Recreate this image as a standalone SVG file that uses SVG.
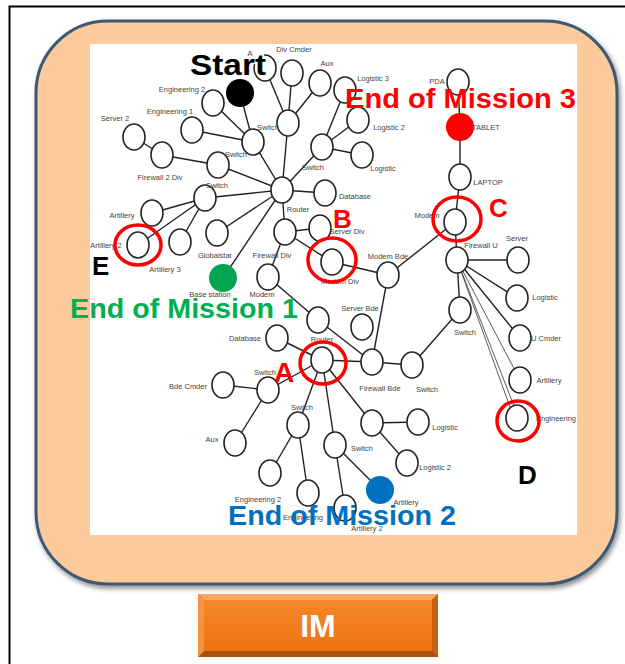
<svg xmlns="http://www.w3.org/2000/svg" width="625" height="664" viewBox="0 0 625 664">
<defs>
<style>
.n{fill:#fff;stroke:#222;stroke-width:1.6}
.e{stroke:#222;stroke-width:1.4;fill:none}
.t{stroke:#333;stroke-width:0.8;fill:none}
.l{font-family:"Liberation Sans",Arial,sans-serif;font-size:7.5px;fill:#444;text-anchor:middle}
.rc{fill:none;stroke:#FF0000;stroke-width:3.5}
.big{font-family:"Liberation Sans",Arial,sans-serif;font-weight:bold}
</style>
<filter id="sh" x="-5%" y="-5%" width="112%" height="112%">
<feDropShadow dx="2" dy="3" stdDeviation="2.5" flood-color="#000" flood-opacity="0.45"/>
</filter>
<linearGradient id="btn" x1="0" y1="0" x2="0" y2="1">
<stop offset="0" stop-color="#F4872A"/>
<stop offset="1" stop-color="#EE7312"/>
</linearGradient>
</defs>
<rect x="0" y="0" width="625" height="664" fill="#fff"/>
<rect x="9.5" y="6.5" width="640" height="680" fill="none" stroke="#000" stroke-width="2"/>
<rect x="36" y="21" width="581" height="563" rx="72" ry="72" fill="#FDCB9B" stroke="#3C5875" stroke-width="3" filter="url(#sh)"/>
<rect x="90" y="44" width="487" height="491" fill="#fff"/>

<g id="connectors">
<line class="e" x1="240" y1="93" x2="253" y2="142"/>
<line class="e" x1="213" y1="103" x2="253" y2="142"/>
<line class="e" x1="192" y1="130" x2="253" y2="142"/>
<line class="e" x1="253" y1="142" x2="282" y2="190"/>
<line class="e" x1="134" y1="137" x2="162" y2="155"/>
<line class="e" x1="162" y1="155" x2="218" y2="165"/>
<line class="e" x1="218" y1="165" x2="282" y2="190"/>
<line class="e" x1="265" y1="68" x2="288" y2="123"/>
<line class="e" x1="292" y1="73" x2="288" y2="123"/>
<line class="e" x1="320" y1="83" x2="288" y2="123"/>
<line class="e" x1="288" y1="123" x2="282" y2="190"/>
<line class="e" x1="345" y1="90" x2="322" y2="147"/>
<line class="e" x1="358" y1="120" x2="322" y2="147"/>
<line class="e" x1="362" y1="155" x2="322" y2="147"/>
<line class="e" x1="322" y1="147" x2="282" y2="190"/>
<line class="e" x1="282" y1="190" x2="325" y2="193"/>
<line class="e" x1="282" y1="190" x2="205" y2="198"/>
<line class="e" x1="205" y1="198" x2="152" y2="213"/>
<line class="e" x1="205" y1="198" x2="138" y2="245"/>
<line class="e" x1="205" y1="198" x2="180" y2="242"/>
<line class="e" x1="282" y1="190" x2="217" y2="233"/>
<line class="e" x1="282" y1="190" x2="223" y2="278"/>
<line class="e" x1="282" y1="190" x2="285" y2="232"/>
<line class="e" x1="285" y1="232" x2="320" y2="228"/>
<line class="e" x1="285" y1="232" x2="332" y2="262"/>
<line class="e" x1="285" y1="232" x2="268" y2="277"/>
<line class="e" x1="332" y1="262" x2="388" y2="275"/>
<line class="e" x1="388" y1="275" x2="455" y2="222"/>
<line class="e" x1="388" y1="275" x2="372" y2="362"/>
<line class="e" x1="268" y1="277" x2="318" y2="320"/>
<line class="e" x1="318" y1="320" x2="372" y2="362"/>
<line class="e" x1="322" y1="360" x2="277" y2="338"/>
<line class="e" x1="322" y1="360" x2="268" y2="390"/>
<line class="e" x1="268" y1="390" x2="223" y2="385"/>
<line class="e" x1="268" y1="390" x2="235" y2="443"/>
<line class="e" x1="322" y1="360" x2="298" y2="425"/>
<line class="e" x1="298" y1="425" x2="270" y2="473"/>
<line class="e" x1="298" y1="425" x2="308" y2="493"/>
<line class="e" x1="322" y1="360" x2="335" y2="445"/>
<line class="e" x1="335" y1="445" x2="345" y2="508"/>
<line class="e" x1="335" y1="445" x2="380" y2="490"/>
<line class="e" x1="322" y1="360" x2="372" y2="423"/>
<line class="e" x1="372" y1="423" x2="418" y2="422"/>
<line class="e" x1="372" y1="423" x2="407" y2="463"/>
<line class="e" x1="322" y1="360" x2="372" y2="362"/>
<line class="e" x1="372" y1="362" x2="412" y2="365"/>
<line class="e" x1="412" y1="365" x2="460" y2="310"/>
<line class="e" x1="460" y1="310" x2="457" y2="260"/>
<line class="e" x1="457" y1="260" x2="455" y2="222"/>
<line class="e" x1="455" y1="222" x2="460" y2="177"/>
<line class="e" x1="460" y1="177" x2="460" y2="127"/>
<line class="e" x1="460" y1="127" x2="458" y2="82"/>
<line class="e" x1="457" y1="260" x2="518" y2="260"/>
<line class="e" x1="457" y1="260" x2="517" y2="298"/>
<line class="e" x1="457" y1="260" x2="520" y2="338"/>
<line class="t" x1="457" y1="260" x2="520" y2="380"/>
<line class="t" x1="457" y1="260" x2="514" y2="406"/>
<line class="t" x1="457" y1="260" x2="510" y2="407"/>
</g>

<g id="node-start"><circle cx="240" cy="93" r="14" fill="#000"/></g>
<g id="node-sw1"><ellipse class="n" cx="253" cy="142" rx="11" ry="13"/></g>
<g id="node-eng2"><ellipse class="n" cx="213" cy="103" rx="11" ry="13"/><text class="l" x="182" y="92">Engineering 2</text></g>
<g id="node-eng1"><ellipse class="n" cx="192" cy="130" rx="11" ry="13"/><text class="l" x="170" y="114">Engineering 1</text></g>
<g id="node-server2"><ellipse class="n" cx="134" cy="137" rx="11" ry="13"/><text class="l" x="115" y="121">Server 2</text></g>
<g id="node-fw2div"><ellipse class="n" cx="162" cy="155" rx="11" ry="13"/><text class="l" x="160" y="180">Firewall 2 Div</text></g>
<g id="node-sw2"><ellipse class="n" cx="218" cy="165" rx="11" ry="13"/><text class="l" x="236" y="157">Switch</text></g>
<g id="node-top1"><ellipse class="n" cx="265" cy="68" rx="11" ry="13"/><text class="l" x="250" y="56">A</text></g>
<g id="node-divcmder"><ellipse class="n" cx="292" cy="73" rx="11" ry="13"/><text class="l" x="294" y="52">Div Cmder</text></g>
<g id="node-aux"><ellipse class="n" cx="320" cy="83" rx="11" ry="13"/><text class="l" x="327" y="66">Aux</text></g>
<g id="node-sw3"><ellipse class="n" cx="288" cy="123" rx="11" ry="13"/><text class="l" x="268" y="130">Switch</text></g>
<g id="node-log3"><ellipse class="n" cx="345" cy="90" rx="11" ry="13"/><text class="l" x="373" y="81">Logistic 3</text></g>
<g id="node-log2"><ellipse class="n" cx="358" cy="120" rx="11" ry="13"/><text class="l" x="389" y="130">Logistic 2</text></g>
<g id="node-log"><ellipse class="n" cx="362" cy="155" rx="11" ry="13"/><text class="l" x="383" y="171">Logistic</text></g>
<g id="node-sw4"><ellipse class="n" cx="322" cy="147" rx="11" ry="13"/><text class="l" x="313" y="170">Switch</text></g>
<g id="node-router"><ellipse class="n" cx="282" cy="190" rx="11" ry="13"/><text class="l" x="298" y="212">Router</text></g>
<g id="node-db"><ellipse class="n" cx="325" cy="193" rx="11" ry="13"/><text class="l" x="355" y="199">Database</text></g>
<g id="node-sw5"><ellipse class="n" cx="205" cy="198" rx="11" ry="13"/><text class="l" x="217" y="188">Switch</text></g>
<g id="node-art"><ellipse class="n" cx="152" cy="213" rx="11" ry="13"/><text class="l" x="122" y="218">Artillery</text></g>
<g id="node-art2"><text class="l" x="106" y="248">Artillery 2</text><ellipse class="n" cx="138" cy="245" rx="11" ry="13"/></g>
<g id="node-art3"><ellipse class="n" cx="180" cy="242" rx="11" ry="13"/><text class="l" x="165" y="272">Artillery 3</text></g>
<g id="node-globalstar"><ellipse class="n" cx="217" cy="233" rx="11" ry="13"/><text class="l" x="215" y="258">Globalstar</text></g>
<g id="node-base"><text class="l" x="210" y="297">Base station</text><circle cx="223" cy="278" r="14" fill="#00A550"/></g>
<g id="node-fwdiv"><ellipse class="n" cx="285" cy="232" rx="11" ry="13"/><text class="l" x="272" y="258">Firewall Div</text></g>
<g id="node-serverdiv"><ellipse class="n" cx="320" cy="228" rx="11" ry="13"/><text class="l" x="347" y="234">Server Div</text></g>
<g id="node-modemdiv"><text class="l" x="340" y="284">Modem Div</text><ellipse class="n" cx="332" cy="262" rx="11" ry="13"/></g>
<g id="node-modem"><ellipse class="n" cx="268" cy="277" rx="11" ry="13"/><text class="l" x="262" y="297">Modem</text></g>
<g id="node-x"><ellipse class="n" cx="318" cy="320" rx="11" ry="13"/></g>
<g id="node-modembde"><ellipse class="n" cx="388" cy="275" rx="11" ry="13"/><text class="l" x="388" y="259">Modem Bde</text></g>
<g id="node-serverbde"><ellipse class="n" cx="362" cy="327" rx="11" ry="13"/><text class="l" x="360" y="311">Server Bde</text></g>
<g id="node-routerA"><text class="l" x="322" y="342">Router</text><ellipse class="n" cx="322" cy="360" rx="11" ry="13"/></g>
<g id="node-fwbde"><ellipse class="n" cx="372" cy="362" rx="11" ry="13"/><text class="l" x="380" y="391">Firewall Bde</text></g>
<g id="node-sw10"><ellipse class="n" cx="412" cy="365" rx="11" ry="13"/><text class="l" x="427" y="392">Switch</text></g>
<g id="node-sw11"><ellipse class="n" cx="460" cy="310" rx="11" ry="13"/><text class="l" x="465" y="335">Switch</text></g>
<g id="node-dbA"><ellipse class="n" cx="277" cy="338" rx="11" ry="13"/><text class="l" x="245" y="341">Database</text></g>
<g id="node-sw6"><ellipse class="n" cx="268" cy="390" rx="11" ry="13"/><text class="l" x="265" y="375">Switch</text></g>
<g id="node-bdecmder"><ellipse class="n" cx="223" cy="385" rx="11" ry="13"/><text class="l" x="188" y="389">Bde Cmder</text></g>
<g id="node-auxA"><ellipse class="n" cx="235" cy="443" rx="11" ry="13"/><text class="l" x="212" y="442">Aux</text></g>
<g id="node-sw7"><ellipse class="n" cx="298" cy="425" rx="11" ry="13"/><text class="l" x="302" y="410">Switch</text></g>
<g id="node-eng2b"><ellipse class="n" cx="270" cy="473" rx="11" ry="13"/><text class="l" x="258" y="502">Engineering 2</text></g>
<g id="node-engb"><ellipse class="n" cx="308" cy="493" rx="11" ry="13"/><text class="l" x="303" y="520">Engineering</text></g>
<g id="node-sw8"><ellipse class="n" cx="335" cy="445" rx="11" ry="13"/><text class="l" x="362" y="451">Switch</text></g>
<g id="node-art2b"><ellipse class="n" cx="345" cy="508" rx="11" ry="13"/><text class="l" x="367" y="531">Artillery 2</text></g>
<g id="node-blue"><circle cx="380" cy="490" r="14" fill="#0070C0"/><text class="l" x="406" y="505">Artillery</text></g>
<g id="node-sw9"><ellipse class="n" cx="372" cy="423" rx="11" ry="13"/></g>
<g id="node-logA"><ellipse class="n" cx="418" cy="422" rx="11" ry="13"/><text class="l" x="445" y="430">Logistic</text></g>
<g id="node-log2A"><ellipse class="n" cx="407" cy="463" rx="11" ry="13"/><text class="l" x="435" y="470">Logistic 2</text></g>
<g id="node-modemC"><text class="l" x="427" y="218">Modem</text><ellipse class="n" cx="455" cy="222" rx="11" ry="13"/></g>
<g id="node-laptop"><ellipse class="n" cx="460" cy="177" rx="11" ry="13"/><text class="l" x="488" y="185">LAPTOP</text></g>
<g id="node-tablet"><circle cx="460" cy="127" r="14" fill="#FF0000"/><text class="l" x="486" y="130">TABLET</text></g>
<g id="node-pda"><ellipse class="n" cx="458" cy="82" rx="11" ry="13"/><text class="l" x="437" y="84">PDA</text></g>
<g id="node-fwU"><ellipse class="n" cx="457" cy="260" rx="11" ry="13"/><text class="l" x="481" y="248">Firewall U</text></g>
<g id="node-server"><ellipse class="n" cx="518" cy="260" rx="11" ry="13"/><text class="l" x="517" y="241">Server</text></g>
<g id="node-logU"><ellipse class="n" cx="517" cy="298" rx="11" ry="13"/><text class="l" x="545" y="300">Logistic</text></g>
<g id="node-ucmder"><ellipse class="n" cx="520" cy="338" rx="11" ry="13"/><text class="l" x="546" y="341">U Cmder</text></g>
<g id="node-artU"><ellipse class="n" cx="520" cy="380" rx="11" ry="13"/><text class="l" x="549" y="383">Artillery</text></g>
<g id="node-engU"><ellipse class="n" cx="517" cy="418" rx="11" ry="13"/><text class="l" x="556" y="421">Engineering</text></g>

<g id="markers">
<ellipse class="rc" cx="323" cy="363" rx="23" ry="21"/>
<ellipse class="rc" cx="332" cy="260" rx="24" ry="22"/>
<ellipse class="rc" cx="457" cy="219" rx="24" ry="22"/>
<ellipse class="rc" cx="518" cy="421" rx="21" ry="20"/>
<ellipse class="rc" cx="138" cy="245" rx="23" ry="20"/>
</g>

<g id="annotations">
<text class="big" x="190" y="75" font-size="30" fill="#000" stroke="#fff" stroke-width="3" paint-order="stroke" textLength="76" lengthAdjust="spacingAndGlyphs">Start</text>
<text class="big" x="345" y="108" font-size="27" fill="#FF0000" textLength="231" lengthAdjust="spacingAndGlyphs">End of Mission  3</text>
<text class="big" x="70" y="318" font-size="27" fill="#00B050" textLength="228" lengthAdjust="spacingAndGlyphs">End of Mission  1</text>
<text class="big" x="228" y="525" font-size="27" fill="#0070C0" textLength="228" lengthAdjust="spacingAndGlyphs">End of Mission  2</text>
<text class="big" x="274" y="382" font-size="28" fill="#FF0000">A</text>
<text class="big" x="333" y="228" font-size="26" fill="#FF0000">B</text>
<text class="big" x="489" y="217" font-size="26" fill="#FF0000">C</text>
<text class="big" x="518" y="484" font-size="26" fill="#000">D</text>
<text class="big" x="92" y="275" font-size="26" fill="#000">E</text>
</g>

<g id="im-button">
<rect x="198" y="594" width="240" height="63" fill="#A9520E"/>
<polygon points="198,594 438,594 432,600 204,600" fill="#F9A860"/>
<polygon points="198,594 204,600 204,651 198,657" fill="#F39440"/>
<polygon points="438,594 432,600 432,651 438,657" fill="#C5620F"/>
<rect x="204" y="600" width="228" height="51" fill="url(#btn)"/>
<text x="318" y="637" font-family="'Liberation Sans',Arial,sans-serif" font-size="32" font-weight="bold" fill="#fff" text-anchor="middle">IM</text>
</g>
</svg>
